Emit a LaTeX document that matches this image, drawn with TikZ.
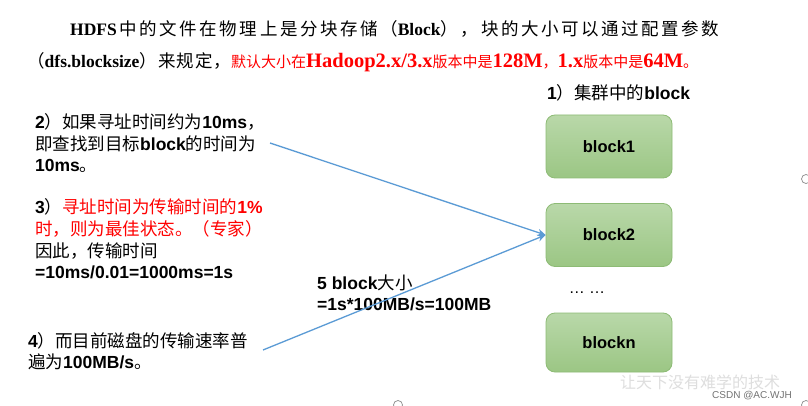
\documentclass[tikz,border=0pt]{standalone}
\usepackage{fontspec}
\setmainfont{Liberation Serif}
\setsansfont{Liberation Sans}
\newfontfamily\zhfont{Noto Sans CJK SC}
\newfontfamily\zhsp[LetterSpace=14.5]{Noto Sans CJK SC}
\newfontfamily\zhspb[LetterSpace=6]{Noto Sans CJK SC}
\usetikzlibrary{arrows.meta}
\newcommand\zt[1]{{\zhsp\mdseries #1}}
\newcommand\zu[1]{{\zhspb\mdseries #1}}
\newcommand\zs[1]{{\zhfont\mdseries\fontsize{15}{18}\selectfont #1}}
\newcommand\ls[1]{{\fontsize{20.5}{22}\selectfont #1}}
\newcommand\z[1]{{\zhfont\mdseries #1}}
\definecolor{linkblue}{HTML}{5B9BD5}
\definecolor{boxtop}{HTML}{B9D8A9}
\definecolor{boxbot}{HTML}{9BC684}
\definecolor{boxedge}{HTML}{8DBB75}
\tikzset{
  titletext/.style={anchor=west, inner sep=0pt, font=\rmfamily\bfseries\fontsize{17.5}{20}\selectfont},
  bodytext/.style={anchor=west, inner sep=0pt, font=\sffamily\bfseries\fontsize{17.5}{21}\selectfont},
  blockbox/.style={rounded corners=9pt, draw=boxedge, line width=0.8pt, top color=boxtop, bottom color=boxbot,
    minimum width=126pt, minimum height=63pt, inner sep=0pt, font=\sffamily\bfseries\fontsize{16.5}{18}\selectfont},
  arrowline/.style={draw=linkblue, line width=1.3pt, -{Stealth[length=8pt,width=7pt]}},
  handle/.style={draw=black!45, line width=0.7pt}
}
\begin{document}
\begin{tikzpicture}[x=1pt,y=-1pt]
\useasboundingbox (0,0) rectangle (808,406);
\fill[white] (0,0) rectangle (808,406);
% title
\node[titletext] (t1) at (70,29) {HDFS\,\zt{中的文件在物理上是分块存储（}Block\zt{）\,，块的大小可以通过配置参数}};
\node[titletext] (t2) at (27,62) {\zu{（}dfs.blocksize\zu{）来规定，}\color{red}\zs{默认大小在}\ls{Hadoop2.x/3.x}\zs{版本中是}\ls{128M}\zs{，}\ls{1.x}\zs{版本中是}\ls{64M}\zs{。}};
% left texts
\node[bodytext] (l2a) at (35,122) {2\z{）如果寻址时间约为}10ms\z{，}};
\node[bodytext] (l2b) at (35,144) {\z{即查找到目标}block\z{的时间为}};
\node[bodytext] (l2c) at (35,166) {10ms\z{。}};
\node[bodytext] (l3a) at (35,207) {3\z{）}\textcolor{red}{\z{寻址时间为传输时间的}1\%}};
\node[bodytext, text=red] (l3b) at (35,229) {\z{时，则为最佳状态。（专家）}};
\node[bodytext] (l3c) at (35,251) {\z{因此，传输时间}};
\node[bodytext] (l3d) at (35,272) {=10ms/0.01=1000ms=1s};
\node[bodytext] (l4a) at (28,341) {4\z{）而目前磁盘的传输速率普}};
\node[bodytext] (l4b) at (28,362) {\z{遍为}100MB/s\z{。}};
\node[bodytext] (l5a) at (317,283) {5 block\z{大小}};
\node[bodytext] (l5b) at (317,304) {=1s*100MB/s=100MB};
\node[bodytext] (l1) at (547,93) {1\z{）集群中的}block};
% blocks
\node[blockbox] (b1) at (609,146.5) {block1};
\node[blockbox] (b2) at (609,235) {block2};
\node[blockbox, minimum height=59pt] (bn) at (609,342.5) {blockn};
\node[inner sep=0pt, font=\sffamily\fontsize{16}{18}\selectfont] (dots) at (587,293) {… …};
% connectors
\coordinate (s1) at (270,143);
\coordinate (s2) at (263,350);
\draw[arrowline] (s1) -- (b2.west);
\draw[arrowline] (s2) -- (b2.west);
% watermark
\node[inner sep=0pt, text=black!13, font=\zhfont\fontsize{16}{17}\selectfont] (wm1) at (700,382) {让天下没有难学的技术};
\node[inner sep=0pt, text=black!55, font=\sffamily\fontsize{10}{11}\selectfont] (wm2) at (752,395.5) {CSDN @AC.WJH};
% handles
\draw[handle] (806,179) circle (4.5);
\draw[handle] (806,405) circle (4.5);
\draw[handle] (398,405) circle (4.5);
\end{tikzpicture}
\end{document}
